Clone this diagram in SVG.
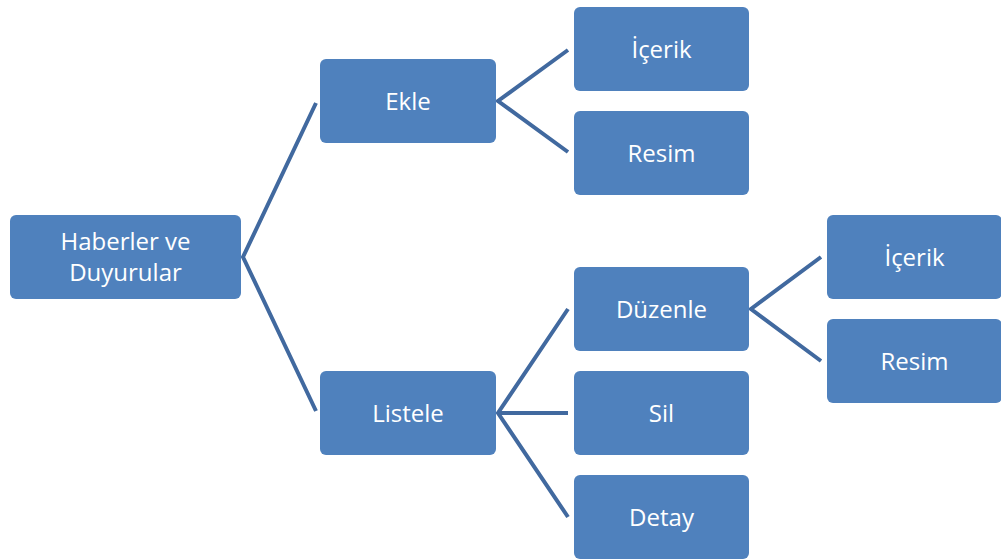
<svg xmlns="http://www.w3.org/2000/svg" width="1001" height="559" viewBox="0 0 1001 559">
  <style>
    .box { fill: #4F81BD; }
    .lbl { fill: #FFFFFF; font-family: "Open Sans", Lato, sans-serif; font-size: 24px; text-anchor: middle; }
    .link { fill: none; stroke: #41699F; stroke-width: 4; stroke-linejoin: miter; }
  </style>
  <rect width="1001" height="559" fill="#FFFFFF"/>

  <!-- connectors -->
  <g id="connectors">
    <polyline class="link" stroke-width="4.5" points="316,103 243,257 316,411"/>
    <polyline class="link" points="568,50 498,101 568,152"/>
    <polyline class="link" points="568,309 498,413 568,517"/>
    <line class="link" x1="498" y1="413" x2="568" y2="413"/>
    <polyline class="link" points="821,257 751,309 821,361"/>
  </g>

  <g id="node-root">
    <rect class="box" x="10" y="215" width="231" height="84" rx="6"/>
    <text class="lbl" x="125.5" y="250">Haberler ve</text>
    <text class="lbl" x="125.5" y="281">Duyurular</text>
  </g>
  <g id="node-ekle">
    <rect class="box" x="320" y="59" width="176" height="84" rx="6"/>
    <text class="lbl" x="408" y="109.5">Ekle</text>
  </g>
  <g id="node-listele">
    <rect class="box" x="320" y="371" width="176" height="84" rx="6"/>
    <text class="lbl" x="408" y="421.5">Listele</text>
  </g>
  <g id="node-ekle-icerik">
    <rect class="box" x="574" y="7" width="175" height="84" rx="6"/>
    <text class="lbl" x="661.5" y="57.5">İçerik</text>
  </g>
  <g id="node-ekle-resim">
    <rect class="box" x="574" y="111" width="175" height="84" rx="6"/>
    <text class="lbl" x="661.5" y="161.5">Resim</text>
  </g>
  <g id="node-duzenle">
    <rect class="box" x="574" y="267" width="175" height="84" rx="6"/>
    <text class="lbl" x="661.5" y="317.5">Düzenle</text>
  </g>
  <g id="node-sil">
    <rect class="box" x="574" y="371" width="175" height="84" rx="6"/>
    <text class="lbl" x="661.5" y="421.5">Sil</text>
  </g>
  <g id="node-detay">
    <rect class="box" x="574" y="475" width="175" height="84" rx="6"/>
    <text class="lbl" x="661.5" y="525.5">Detay</text>
  </g>
  <g id="node-duzenle-icerik">
    <rect class="box" x="827" y="215" width="175" height="84" rx="6"/>
    <text class="lbl" x="914.5" y="265.5">İçerik</text>
  </g>
  <g id="node-duzenle-resim">
    <rect class="box" x="827" y="319" width="175" height="84" rx="6"/>
    <text class="lbl" x="914.5" y="369.5">Resim</text>
  </g>
</svg>
